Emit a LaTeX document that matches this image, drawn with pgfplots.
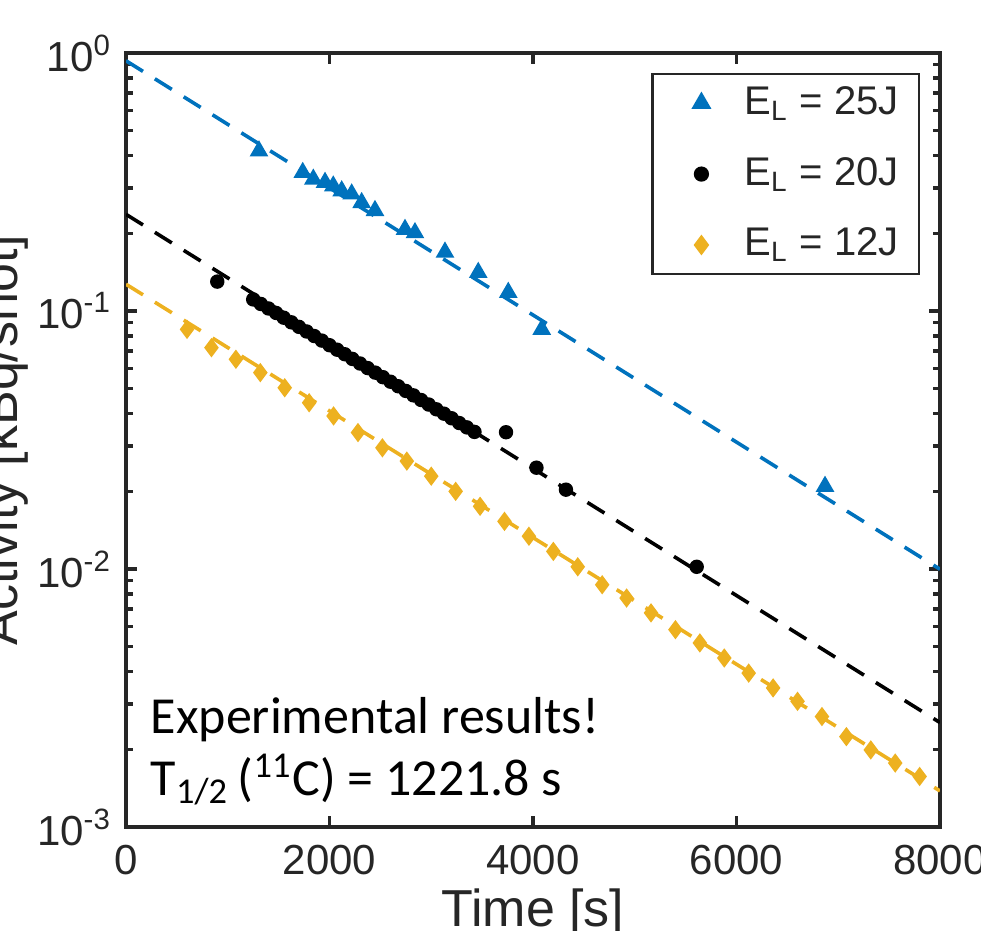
\documentclass[border=0pt]{standalone}
\usepackage{pgfplots}
\pgfplotsset{compat=1.18}
\usepackage{fontspec}
\setmainfont{Liberation Sans}
\newfontfamily\calibri{Carlito}
\definecolor{mblue}{RGB}{0,114,189}
\definecolor{myellow}{RGB}{237,177,32}
\definecolor{axgray}{RGB}{38,38,38}
\begin{document}
\begin{tikzpicture}
\path[use as bounding box] (-31.5pt,-25.75pt) rectangle (213.75pt,206.75pt);
\clip (-31.5pt,-25.75pt) rectangle (213.75pt,206.75pt);
\begin{axis}[
  at={(0pt,0pt)}, anchor=south west,
  scale only axis, width=203.5pt, height=193.5pt,
  ymode=log, xmin=0, xmax=8000, ymin=1e-3, ymax=1,
  xtick={0,2000,4000,6000,8000}, xticklabels={0,2000,4000,6000,8000},
  ytick={0.001,0.01,0.1,1},
  yticklabels={10\textsuperscript{-3},10\textsuperscript{-2},10\textsuperscript{-1},10\textsuperscript{0}},
  minor ytick={0.002,0.003,0.004,0.005,0.006,0.007,0.008,0.009,0.02,0.03,0.04,0.05,0.06,0.07,0.08,0.09,0.2,0.3,0.4,0.5,0.6,0.7,0.8,0.9},
  tick align=inside, major tick length=2.7pt, minor tick length=1.8pt,
  axis line style={axgray, line width=1.1pt},
  every tick/.style={axgray, line width=0.8pt},
  ticklabel style={text=axgray, font=\fontsize{10.5}{12}\selectfont},
  xticklabel style={yshift=-1pt},
  xlabel={Time [s]}, ylabel={Activity [kBq/shot]},
  label style={text=axgray, font=\fontsize{13}{15}\selectfont},
  xlabel style={at={(axis description cs:0.5,-0.128)}, anchor=base},
  ylabel style={at={(axis description cs:-0.1327,0.5)}, anchor=base},
  legend image code/.code={\path[draw=none,fill=none] (0pt,0pt) -- (18pt,0pt); \draw[#1] plot coordinates {(9.25pt,0pt)};},
  legend style={at={(0.9754,0.9742)}, anchor=north east, draw=axgray, line width=0.6pt,
    font=\fontsize{10}{12}\selectfont, text=axgray, inner xsep=3pt, inner ysep=1pt,
    row sep=5.25pt, cells={anchor=west}},
]
\addplot[only marks, mark=triangle*, mark size=2.3pt, color=mblue] coordinates {
(1307,0.417)(1737,0.344)(1841,0.324)(1956,0.315)(2037,0.305)(2120,0.292)(2218,0.284)(2316,0.263)(2447,0.245)(2742,0.207)(2840,0.201)(3135,0.169)(3462,0.141)(3757,0.118)(4086,0.0849)(6870,0.0209)};
\addlegendentry{E\textsubscript{L} = 25J}
\addplot[only marks, mark=*, mark size=1.6pt, color=black] coordinates {
(897,0.130)
(1250,0.1109)(1325,0.1065)(1400,0.1023)(1475,0.0983)(1550,0.0942)(1625,0.0904)(1700,0.0868)(1775,0.0833)(1850,0.0800)(1925,0.0768)
(2000,0.0737)(2075,0.0708)(2150,0.0680)(2225,0.0652)(2300,0.0626)(2375,0.0601)(2450,0.0577)(2525,0.0554)(2600,0.0532)(2675,0.0511)
(2750,0.0490)(2825,0.0471)(2900,0.0452)(2975,0.0434)(3050,0.0416)(3125,0.0400)(3200,0.0384)(3275,0.0368)(3350,0.0354)(3425,0.0340)
(3735,0.0339)(4034,0.0247)(4324,0.0203)(5609,0.0102)};
\addlegendentry{E\textsubscript{L} = 20J}
\addplot[only marks, mark=diamond*, mark size=2.1pt, color=myellow] coordinates {
(600,0.0849)(840,0.0721)(1080,0.0650)(1320,0.0577)(1560,0.0504)(1800,0.0441)(2040,0.0392)(2280,0.0338)(2520,0.0295)(2760,0.0262)
(3000,0.0229)(3240,0.0200)(3480,0.0175)(3720,0.0153)(3960,0.0134)(4200,0.0117)(4440,0.0102)(4680,0.00869)(4920,0.00772)(5160,0.00676)
(5400,0.00582)(5640,0.00517)(5880,0.00452)(6120,0.00395)(6360,0.00346)(6600,0.00307)(6840,0.00268)(7080,0.00224)(7320,0.00199)(7560,0.00177)(7800,0.00157)};
\addlegendentry{E\textsubscript{L} = 12J}
\addplot[forget plot, mblue, line width=0.9pt, dash pattern=on 5pt off 3.5pt] coordinates {(0,0.933)(8000,0.00998)};
\addplot[forget plot, black, line width=0.9pt, dash pattern=on 5pt off 3.5pt] coordinates {(0,0.237)(8000,0.00254)};
\addplot[forget plot, myellow, line width=0.9pt, dash pattern=on 5pt off 3.5pt] coordinates {(0,0.127)(8000,0.00138)};
\node[anchor=base west, inner sep=0pt, font=\calibri\fontsize{13}{15}\selectfont] at (axis cs:236,0.0023) {Experimental results!};
\node[anchor=base west, inner sep=0pt, font=\calibri\fontsize{13}{15}\selectfont] at (axis cs:236,0.00133) {T\textsubscript{1/2}\,(\textsuperscript{11}C) = 1221.8 s};
\end{axis}
\end{tikzpicture}
\end{document}
